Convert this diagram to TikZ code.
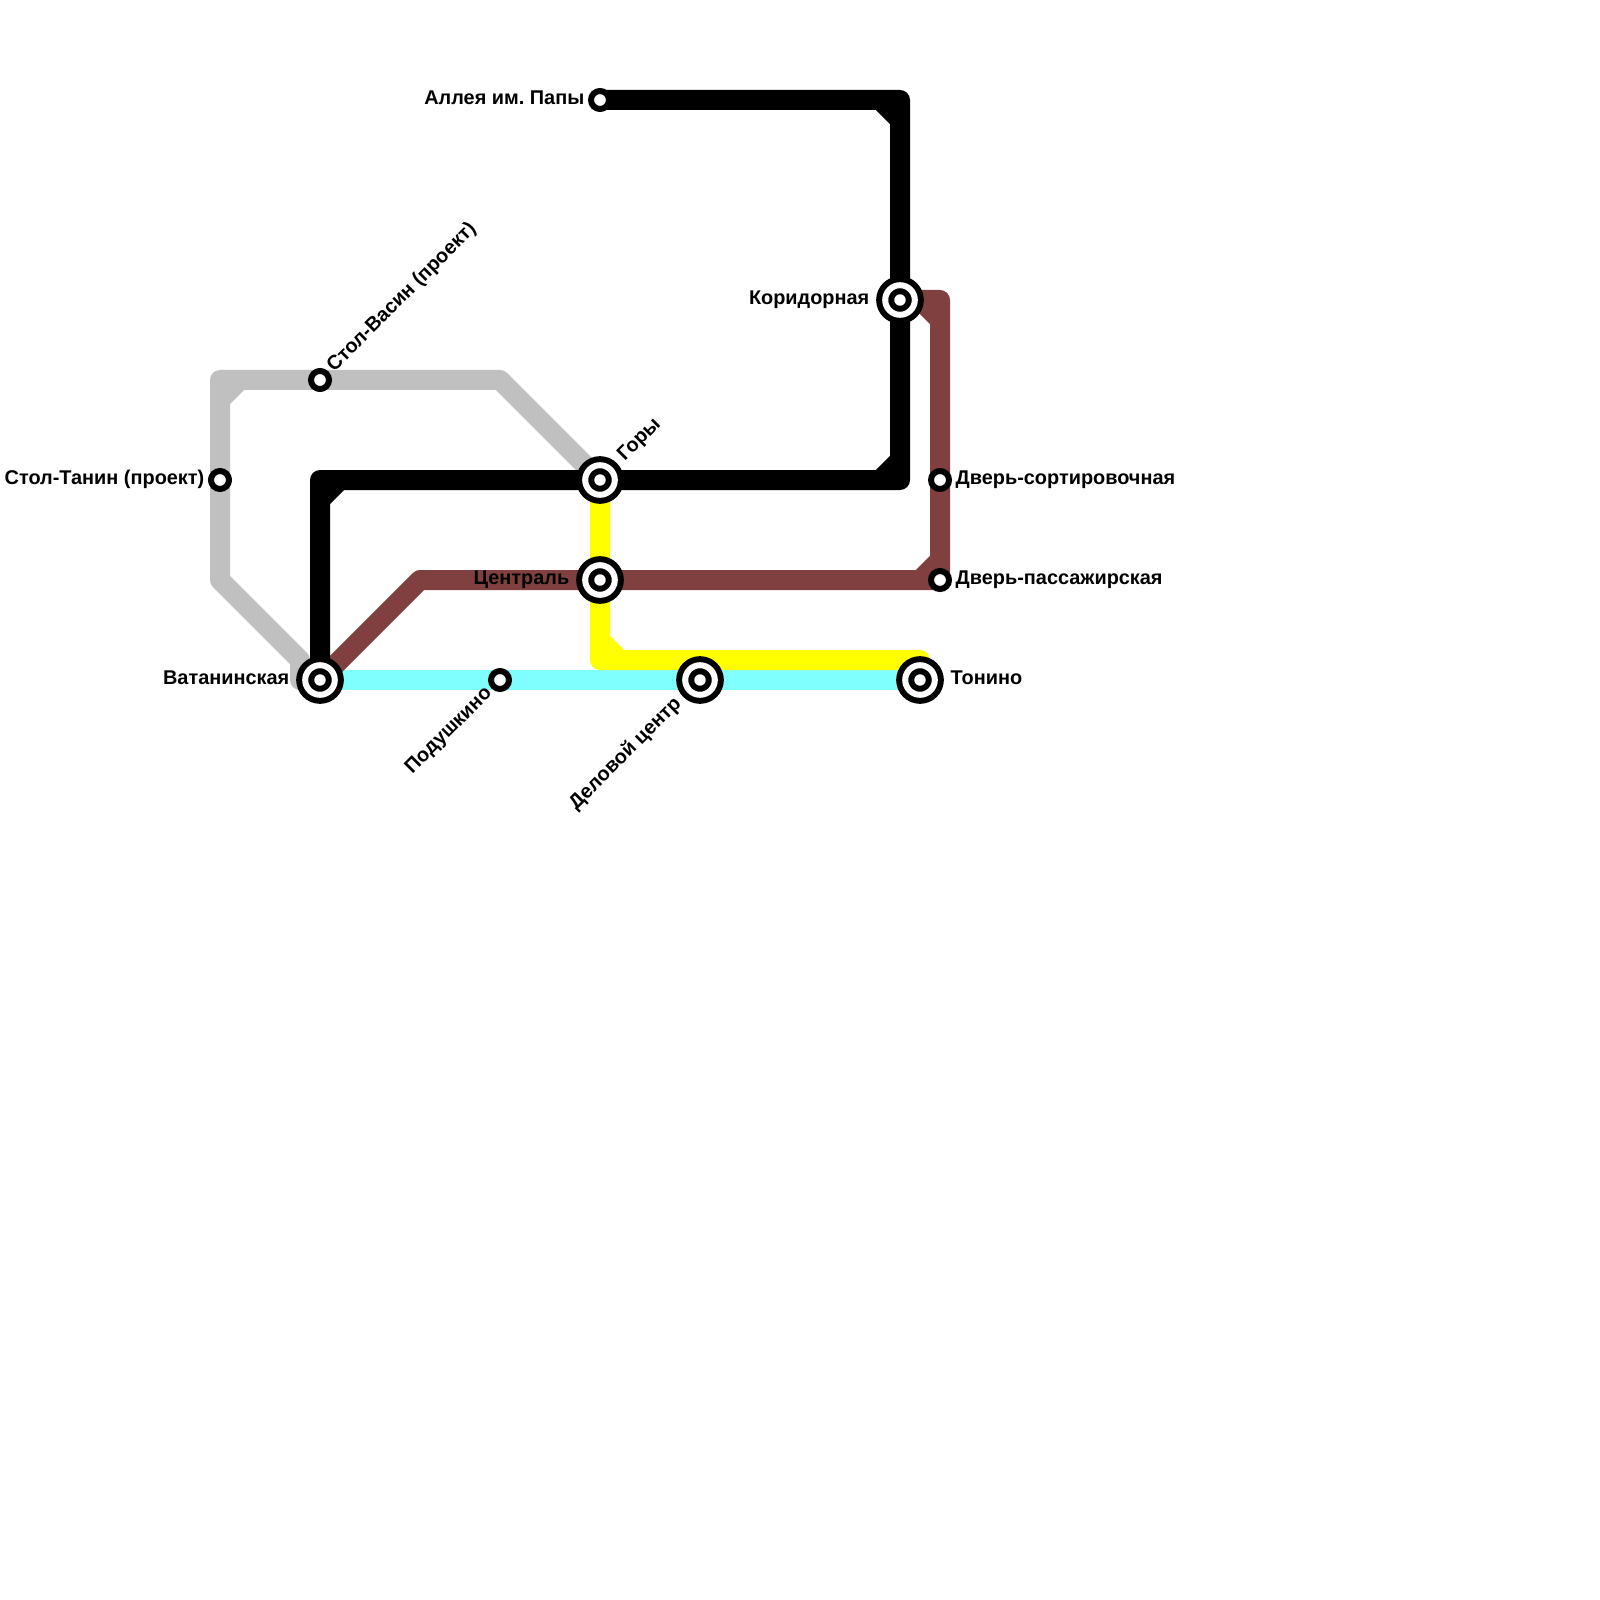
\documentclass[tikz,border=0pt]{standalone}
\usepackage{fontspec}
\setmainfont{Liberation Sans}
\usetikzlibrary{backgrounds,positioning}
\definecolor{lineGrey}{HTML}{C0C0C0}
\definecolor{lineBrown}{HTML}{804040}
\definecolor{lineCyan}{HTML}{80FFFF}
\definecolor{lineYellow}{HTML}{FFFF00}
\frenchspacing

\begin{document}
\begin{tikzpicture}[
    x=2mm, y=-2mm,
    tube/.style={line width=2mm, line join=round},
    halt/.style={circle, draw=black, fill=white, line width=0.6mm,
                 minimum size=1.8mm, inner sep=0pt, outer sep=0pt},
    hub/.style={circle, draw=black, fill=white, line width=0.6mm, double=white,
                double distance=0.6mm, minimum size=2.96mm, inner sep=0pt, outer sep=0pt},
    stname/.style={font=\bfseries\fontsize{5.66pt}{7pt}\selectfont, inner sep=0pt,
                   text height=1.45mm, text depth=0.5mm}
  ]
    \useasboundingbox (0,0) rectangle (80,80);

    \node[halt] (aleya) at (30,5) {};
    \node[hub] (koridor) at (45,15) {};
    \node[hub] (gory) at (30,24) {};
    \node[hub] (central) at (30,29) {};
    \node[hub] (vatan) at (16,34) {};
    \node[halt] (podush) at (25,34) {};
    \node[hub] (delovoy) at (35,34) {};
    \node[hub] (tonino) at (46,34) {};
    \node[halt] (stvasin) at (16,19) {};
    \node[halt] (sttanin) at (11,24) {};
    \node[halt] (dvsort) at (47,24) {};
    \node[halt] (dvpass) at (47,29) {};

    \coordinate (blackA) at (45,5);
    \coordinate (blackB) at (45,24);
    \coordinate (blackC) at (16,24);
    \coordinate (brownA) at (21,29);
    \coordinate (brownB) at (47,15);
    \coordinate (yellowA) at (30,33);
    \coordinate (yellowB) at (46,33);
    \coordinate (greyA) at (25,19);
    \coordinate (greyB) at (11,19);
    \coordinate (greyC) at (11,29);
    \coordinate (greyD) at (15,33);
    \coordinate (greyE) at (15,34);

    \begin{scope}[on background layer]
      \draw[tube, lineGrey] (gory.center) -- (greyA) -- (greyB) -- (greyC) -- (greyD) -- (greyE) -- (vatan.center)
        (12,19) -- (11,20);
      \draw[tube, lineCyan] (vatan.center) -- (tonino.center);
      \draw[tube, lineYellow] (gory.center) -- (yellowA) -- (yellowB) -- (tonino.center)
        (30,32) -- (31,33);
      \draw[tube, lineBrown] (vatan.center) -- (brownA) -- (dvpass.center) -- (brownB) -- (koridor.center)
        (46,29) -- (47,28) (46,15) -- (47,16);
      \draw[tube, black] (aleya.center) -- (blackA) -- (blackB) -- (blackC) -- (vatan.center)
        (44,5) -- (45,6) (45,23) -- (44,24) (16,25) -- (17,24);
    \end{scope}

    \node[stname, left=1.5mm of aleya.center] (aleyaname) {Аллея им. Папы};
    \node[stname, left=3mm of koridor.center] (koridorname) {Коридорная};
    \node[stname, left=3mm of central.center] (centralname) {Централь};
    \node[stname, left=3mm of vatan.center] (vatanname) {Ватанинская};
    \node[stname, left=1.5mm of sttanin.center] (sttaninname) {Стол-Танин (проект)};
    \node[stname, right=3mm of tonino.center] (toninoname) {Тонино};
    \node[stname, right=1.5mm of dvsort.center] (dvsortname) {Дверь-сортировочная};
    \node[stname, right=1.5mm of dvpass.center] (dvpassname) {Дверь-пассажирская};
    \node[stname, above right=1.05mm and 1.05mm of stvasin.center, rotate=45, anchor=west] (stvasinname) {Стол-Васин (проект)};
    \node[stname, above right=2.1mm and 2.1mm of gory.center, rotate=45, anchor=west] (goryname) {Горы};
    \node[stname, below left=1.05mm and 1.05mm of podush.center, rotate=45, anchor=east] (podushname) {Подушкино};
    \node[stname, below left=2.1mm and 2.1mm of delovoy.center, rotate=45, anchor=east] (delovoyname) {Деловой центр};
  \end{tikzpicture}
\end{document}
